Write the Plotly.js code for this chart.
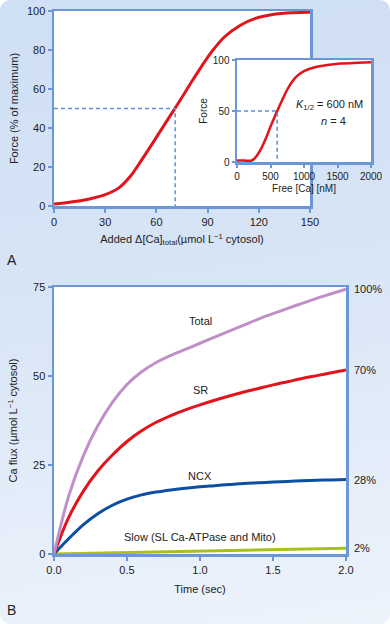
<!DOCTYPE html>
<html><head><meta charset="utf-8">
<script src="https://cdn.plot.ly/plotly-3.0.1.min.js"></script>
<style>
html,body{margin:0;padding:0;background:#ffffff;}
#wrap{width:390px;height:624px;border-radius:10px;overflow:hidden;
background:linear-gradient(172deg,#cfdff4 0%,#d6e4f6 40%,#e2ecf9 70%,#edf3fb 100%);}
#chart{width:390px;height:624px;}
</style></head>
<body><div id="wrap"><div id="chart"></div></div>
<script>
// Panel A main: force vs added total Ca
const addedCa = [0, 10, 20, 30, 38, 45, 50, 56, 62, 67, 71, 75, 80, 86, 93, 100, 109, 118, 129, 140, 150];
const forceMain = [1, 2, 3.5, 5.8, 9.3, 15.5, 21.8, 29.8, 38, 44.8, 50.2, 55.8, 62.8, 71, 79.8, 86.8, 92.6, 96.2, 98.3, 99.1, 99.3];
const halfA_x = [0, 71, 71];
const halfA_y = [50, 50, 0];
// Panel A inset: force vs free Ca
const freeCa = [0, 100, 220, 300, 371, 430, 496, 550, 606, 680, 747, 820, 898, 1000, 1147, 1350, 1549, 1800, 2000];
const forceInset = [1.5, 1.5, 1.5, 6.5, 14.5, 23, 34, 42.5, 50.8, 61.5, 70.6, 78.5, 84.4, 89.1, 92.7, 95.2, 96.6, 97.3, 97.7];
const halfI_x = [0, 600, 600];
const halfI_y = [50, 50, 0];
// Panel B: Ca flux vs time
const timeSec = [0, 0.1, 0.2, 0.3, 0.4, 0.5, 0.6, 0.7, 0.8, 0.9, 1.0, 1.1, 1.2, 1.3, 1.4, 1.5, 1.6, 1.7, 1.8, 1.9, 2.0];
const totalFlux = [0, 16.2, 27.5, 36.0, 42.6, 47.6, 51.2, 53.8, 55.8, 57.5, 59.2, 60.9, 62.6, 64.3, 66.0, 67.5, 69.0, 70.4, 71.8, 73.1, 74.4];
const srFlux = [0, 10.2, 17.6, 23.3, 27.8, 31.6, 34.6, 37.0, 38.9, 40.5, 41.9, 43.2, 44.4, 45.5, 46.5, 47.5, 48.4, 49.3, 50.1, 50.9, 51.7];
const ncxFlux = [0, 4.3, 8.2, 11.3, 13.7, 15.4, 16.6, 17.4, 18.0, 18.5, 18.9, 19.2, 19.5, 19.8, 20.0, 20.2, 20.4, 20.55, 20.7, 20.8, 20.9];
const slowTime = [0, 2.0];
const slowFlux = [0, 1.6];
const seriesLabels = ["Total", "SR", "NCX", "Slow (SL Ca-ATPase and Mito)"];
const labelY = [65.5, 46, 21.8, 4.9];
const pctLabels = ["100%", "70%", "28%", "2%"];
const pctY = [74.4, 51.7, 20.9, 1.6];
const ticksAx = [0, 30, 60, 90, 120, 150];
const ticksAy = [0, 20, 40, 60, 80, 100];
const ticksIx = [0, 500, 1000, 1500, 2000];
const ticksIy = [0, 50, 100];
const ticksBx = [0, 0.5, 1.0, 1.5, 2.0];
const ticksBy = [0, 25, 50, 75];

const FR = '#6b97d6';
const FONT = 'Liberation Sans, Arial, sans-serif';
const TXT = '#222222';
const W = 390, H = 624;
const px = v => v / W, py = v => 1 - v / H;

const traces = [
  {x: addedCa, y: forceMain, xaxis: 'x', yaxis: 'y', mode: 'lines', line: {color: '#e3131b', width: 3, shape: 'spline'}},
  {x: halfA_x, y: halfA_y, xaxis: 'x', yaxis: 'y', mode: 'lines', line: {color: '#5b8fd8', width: 1.5, dash: '4px,3px'}},
  {x: freeCa, y: forceInset, xaxis: 'x2', yaxis: 'y2', mode: 'lines', line: {color: '#e3131b', width: 2.5, shape: 'spline'}},
  {x: halfI_x, y: halfI_y, xaxis: 'x2', yaxis: 'y2', mode: 'lines', line: {color: '#5b8fd8', width: 1.5, dash: '4px,3px'}},
  {x: slowTime, y: slowFlux, xaxis: 'x3', yaxis: 'y3', mode: 'lines', line: {color: '#a5c21c', width: 3}},
  {x: timeSec, y: ncxFlux, xaxis: 'x3', yaxis: 'y3', mode: 'lines', line: {color: '#0d4fa3', width: 3, shape: 'spline'}},
  {x: timeSec, y: srFlux, xaxis: 'x3', yaxis: 'y3', mode: 'lines', line: {color: '#e3131b', width: 3, shape: 'spline'}},
  {x: timeSec, y: totalFlux, xaxis: 'x3', yaxis: 'y3', mode: 'lines', line: {color: '#c08fc8', width: 3, shape: 'spline'}}
];

function ax(extra) {
  return Object.assign({
    showline: true, mirror: true, linecolor: FR, linewidth: 2.5,
    showgrid: false, zeroline: false, ticks: 'outside', ticklen: 4, tickwidth: 2, tickcolor: FR,
    tickfont: {family: FONT, size: 11, color: TXT}, fixedrange: true
  }, extra);
}

const annotations = [];
seriesLabels.forEach((t, i) => annotations.push({
  text: t, x: 1.0, y: labelY[i], xref: 'x3', yref: 'y3', showarrow: false,
  font: {family: FONT, size: 11, color: TXT}, xanchor: 'center', yanchor: 'middle'
}));
pctLabels.forEach((t, i) => annotations.push({
  text: t, x: px(352), y: pctY[i], xref: 'paper', yref: 'y3', showarrow: false,
  font: {family: FONT, size: 11, color: TXT}, xanchor: 'left', yanchor: 'middle'
}));
annotations.push({text: '<i>K</i><sub>1/2</sub> = 600 nM', x: px(329), y: py(105), xref: 'paper', yref: 'paper',
  showarrow: false, font: {family: FONT, size: 11, color: TXT}, xanchor: 'center', yanchor: 'middle'});
annotations.push({text: '<i>n</i> = 4', x: px(333), y: py(121), xref: 'paper', yref: 'paper',
  showarrow: false, font: {family: FONT, size: 11, color: TXT}, xanchor: 'center', yanchor: 'middle'});
annotations.push({text: 'A', x: px(5), y: py(260), xref: 'paper', yref: 'paper', showarrow: false,
  font: {family: FONT, size: 14, color: TXT}, xanchor: 'left', yanchor: 'middle'});
annotations.push({text: 'B', x: px(5), y: py(610), xref: 'paper', yref: 'paper', showarrow: false,
  font: {family: FONT, size: 14, color: TXT}, xanchor: 'left', yanchor: 'middle'});

const layout = {
  width: W, height: H, margin: {l: 0, r: 0, t: 0, b: 0},
  paper_bgcolor: 'rgba(0,0,0,0)', plot_bgcolor: '#ffffff', showlegend: false,
  xaxis: ax({domain: [px(54), px(310)], range: [0, 150], anchor: 'y', tickvals: ticksAx,
    title: {text: 'Added Δ[Ca]<sub>total</sub>(µmol L<sup>−1</sup> cytosol)', font: {family: FONT, size: 11, color: TXT}, standoff: 9}}),
  yaxis: ax({domain: [py(206), py(11)], range: [0, 100], anchor: 'x', tickvals: ticksAy,
    title: {text: 'Force (% of maximum)', font: {family: FONT, size: 11, color: TXT}, standoff: 6}}),
  xaxis2: ax({domain: [px(237), px(371)], range: [0, 2000], anchor: 'y2', tickvals: ticksIx, ticklen: 3,
    tickfont: {family: FONT, size: 10, color: TXT},
    title: {text: 'Free [Ca] [nM]', font: {family: FONT, size: 10, color: TXT}, standoff: 5}}),
  yaxis2: ax({domain: [py(162), py(60)], range: [0, 100], anchor: 'x2', tickvals: ticksIy, ticklen: 3,
    tickfont: {family: FONT, size: 10, color: TXT},
    title: {text: 'Force', font: {family: FONT, size: 10, color: TXT}, standoff: 4}}),
  xaxis3: ax({domain: [px(54), px(346)], range: [0, 2], anchor: 'y3', tickvals: ticksBx, tickformat: '.1f',
    title: {text: 'Time (sec)', font: {family: FONT, size: 11, color: TXT}, standoff: 11}}),
  yaxis3: ax({domain: [py(554), py(287)], range: [0, 75], anchor: 'x3', tickvals: ticksBy,
    title: {text: 'Ca flux (µmol L<sup>−1</sup> cytosol)', font: {family: FONT, size: 11, color: TXT}, standoff: 13}}),
  annotations: annotations
};

Plotly.newPlot('chart', traces, layout, {displayModeBar: false, staticPlot: true});
</script></body></html>
